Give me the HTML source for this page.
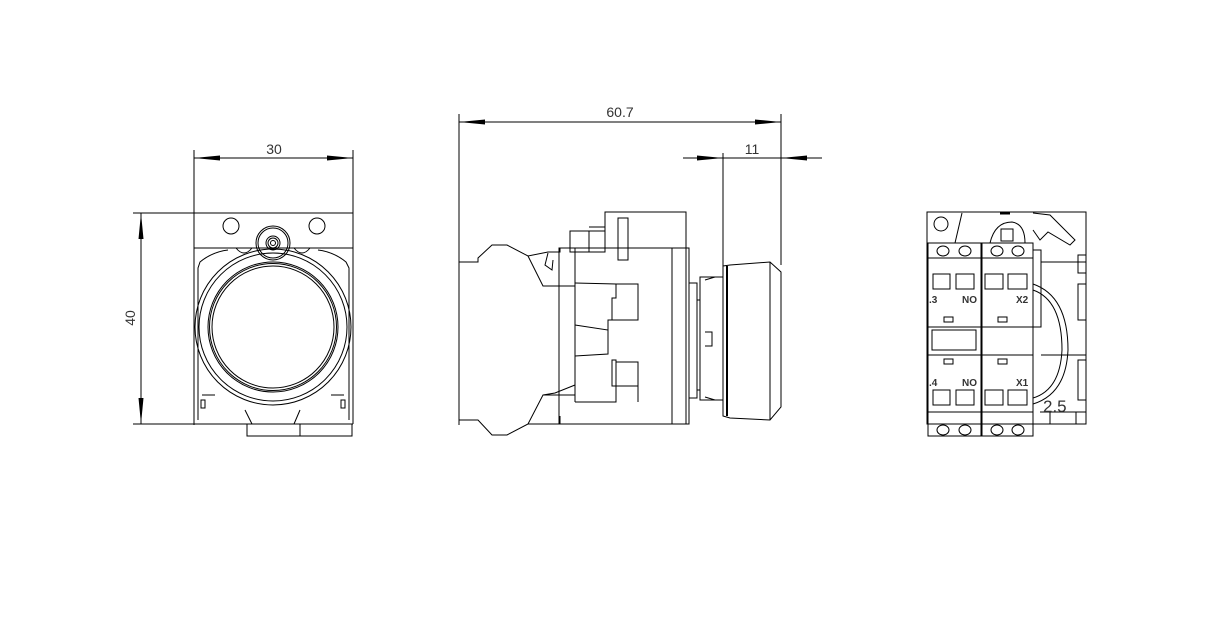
<!DOCTYPE html>
<html><head><meta charset="utf-8"><style>
html,body{margin:0;padding:0;background:#fff;}
svg{display:block;}
text{font-family:"Liberation Sans",sans-serif;fill:#333;}
</style></head><body>
<svg width="1212" height="619" viewBox="0 0 1212 619" xmlns="http://www.w3.org/2000/svg">
<defs>
<marker id="a" markerWidth="26" markerHeight="8" refX="26" refY="4" orient="auto" markerUnits="userSpaceOnUse"><path d="M0,1.5 L26,4 L0,6.5 Z" fill="#000"/></marker>
</defs>
<g stroke="#000" stroke-width="1" fill="none">
<line x1="194" y1="150" x2="194" y2="425"/>
<line x1="353" y1="150" x2="353" y2="213"/>
<line x1="220" y1="158" x2="194" y2="158" marker-end="url(#a)"/>
<line x1="220" y1="158" x2="353" y2="158" marker-end="url(#a)"/>
<line x1="133" y1="213" x2="353" y2="213"/>
<line x1="133" y1="424" x2="353" y2="424"/>
<line x1="141" y1="300" x2="141" y2="213" marker-end="url(#a)"/>
<line x1="141" y1="300" x2="141" y2="424" marker-end="url(#a)"/>
<line x1="353" y1="213" x2="353" y2="424"/>
<line x1="194" y1="248" x2="353" y2="248"/>
<circle cx="231" cy="226" r="8"/><circle cx="317" cy="226" r="8"/>
<circle cx="273" cy="243" r="17"/><circle cx="273" cy="243" r="15"/>
<circle cx="273" cy="243" r="7"/><circle cx="273" cy="243" r="5"/><circle cx="273" cy="243" r="2.5"/>
<path d="M228,250 Q212,252 200,262 L198,268 L198,420"/>
<path d="M318,250 Q334,252 346,262 L349,268 L349,420"/>
<path d="M236,248 q8,10 16,0"/><path d="M294,248 q8,10 16,0"/>
<circle cx="273" cy="327" r="78"/>
<circle cx="273" cy="327" r="74"/>
<circle cx="273" cy="327" r="65"/><circle cx="273" cy="327" r="63.5"/><circle cx="273" cy="327" r="61"/>
<line x1="202" y1="395" x2="215" y2="395"/><line x1="331" y1="395" x2="344" y2="395"/>
<rect x="201" y="400" width="4" height="8"/><rect x="341" y="400" width="4" height="8"/>
<path d="M245,410 L252,424 M300,410 L294,424"/>
<rect x="247" y="424" width="53" height="12"/><rect x="300" y="424" width="52" height="12"/>

<line x1="459" y1="114" x2="459" y2="425"/>
<line x1="781" y1="114" x2="781" y2="265"/>
<line x1="620" y1="122" x2="459" y2="122" marker-end="url(#a)"/>
<line x1="620" y1="122" x2="781" y2="122" marker-end="url(#a)"/>
<line x1="723" y1="153" x2="723" y2="266"/>
<line x1="683" y1="158" x2="723" y2="158" marker-end="url(#a)"/>
<line x1="822" y1="158" x2="781" y2="158" marker-end="url(#a)"/>
<line x1="723" y1="158" x2="781" y2="158"/>
<path d="M459,262 L478,262 L478,258 L492,245 L507,245 L528,256 L548,252 L560,252 L560,248 L575,248 L575,286 L543,286 L528,256"/>
<path d="M459,262 L459,420 L478,420 L492,435 L507,435 L528,424 L543,395 L575,395 L575,402"/>
<path d="M528,424 L560,424 L560,416"/>
<path d="M548,253 L545,265 L552,270 L553,260"/>
<path d="M543,395 L555,393 L575,385"/>
<rect x="559" y="248" width="127" height="176"/>
<line x1="575" y1="283" x2="575" y2="402"/>
<path d="M575,283 L616,284 L616,298 L612,298 L612,320 L638,320 L638,284 L616,284"/>
<path d="M612,320 L608,320 L608,354 M575,325 L608,330 L608,354 L575,356"/>
<path d="M575,402 L616,402 L616,360 L612,360 L612,386 L638,386 L638,362 L616,362 M612,386 L638,386 L638,402"/>
<rect x="605" y="212" width="81" height="36"/>
<rect x="618" y="218" width="10" height="42"/>
<rect x="570" y="231" width="35" height="21"/>
<line x1="589" y1="231" x2="589" y2="252"/>
<line x1="589" y1="227" x2="605" y2="227"/>
<rect x="672" y="248" width="14" height="176"/>
<rect x="686" y="248" width="3" height="176"/>
<rect x="689" y="283" width="8" height="115"/>
<rect x="697" y="300" width="3" height="90"/>
<path d="M700,277 L723,277 L723,400 L700,400 Z"/>
<path d="M705,280 L715,277 M705,397 L715,400"/>
<path d="M705,332 L712,332 L712,346 L705,346"/>
<path d="M723,266 L730,265 L770,262 L781,272 L781,407 L770,420 L730,418 L723,416 Z"/>
<line x1="727" y1="266" x2="727" y2="416" stroke-width="2"/>
<line x1="770" y1="262" x2="770" y2="420"/>

<rect x="927" y="212" width="159" height="212"/>
<rect x="928" y="243" width="53" height="193"/>
<rect x="982" y="243" width="51" height="193"/>
<line x1="928" y1="258" x2="1033" y2="258"/>
<line x1="928" y1="327" x2="1033" y2="327"/>
<line x1="928" y1="355" x2="1033" y2="355"/>
<line x1="928" y1="412" x2="1033" y2="412"/>
<ellipse cx="943" cy="251" rx="6" ry="5"/><ellipse cx="965" cy="251" rx="6" ry="5"/>
<ellipse cx="997" cy="251" rx="6" ry="5"/><ellipse cx="1018" cy="251" rx="6" ry="5"/>
<ellipse cx="943" cy="430" rx="6" ry="5"/><ellipse cx="965" cy="430" rx="6" ry="5"/>
<ellipse cx="997" cy="430" rx="6" ry="5"/><ellipse cx="1018" cy="430" rx="6" ry="5"/>
<rect x="933" y="274" width="17" height="15"/><rect x="956" y="274" width="18" height="15"/>
<rect x="985" y="274" width="18" height="15"/><rect x="1008" y="274" width="19" height="15"/>
<rect x="933" y="390" width="17" height="15"/><rect x="956" y="390" width="18" height="15"/>
<rect x="985" y="390" width="18" height="15"/><rect x="1008" y="390" width="19" height="15"/>
<rect x="944" y="317" width="9" height="5"/><rect x="998" y="317" width="9" height="5"/>
<rect x="944" y="359" width="9" height="5"/><rect x="998" y="359" width="9" height="5"/>
<rect x="932" y="330" width="44" height="20"/>
<circle cx="941" cy="224" r="7"/>
<line x1="955" y1="243" x2="962" y2="213"/>
<line x1="1000" y1="213" x2="1010" y2="213" stroke-width="3"/>
<path d="M990,243 Q995,222 1012,222 Q1025,224 1025,243"/>
<rect x="1001" y="229" width="12" height="12"/>
<path d="M1033,213 L1050,215 L1075,240 L1070,245 L1048,232 L1040,240 L1033,230"/>
<rect x="1033" y="250" width="8" height="77"/>
<line x1="1041" y1="262" x2="1086" y2="262"/>
<rect x="1078" y="255" width="8" height="18"/>
<rect x="1078" y="284" width="8" height="36"/>
<rect x="1078" y="360" width="8" height="40"/>
<line x1="1041" y1="355" x2="1086" y2="355"/>
<path d="M1033,290 Q1062,300 1062,350 Q1060,390 1033,398"/>
<path d="M1033,284 Q1068,296 1068,350 Q1066,394 1033,404"/>
<line x1="1040" y1="412" x2="1086" y2="412"/>
<rect x="1050" y="412" width="26" height="12"/>
</g>
<text x="274" y="154" font-size="14" text-anchor="middle">30</text>
<text x="0" y="0" font-size="14" text-anchor="middle" transform="translate(135,318) rotate(-90)">40</text>
<text x="620" y="117" font-size="14" text-anchor="middle">60.7</text>
<text x="752" y="154" font-size="14" text-anchor="middle">11</text>
<g font-size="10" font-weight="bold">
<text x="929" y="303">.3</text><text x="962" y="303">NO</text><text x="1016" y="303">X2</text>
<text x="929" y="386">.4</text><text x="962" y="386">NO</text><text x="1016" y="386">X1</text>
</g>
<text x="1043" y="412" font-size="17">2.5</text>
</svg>
</body></html>
